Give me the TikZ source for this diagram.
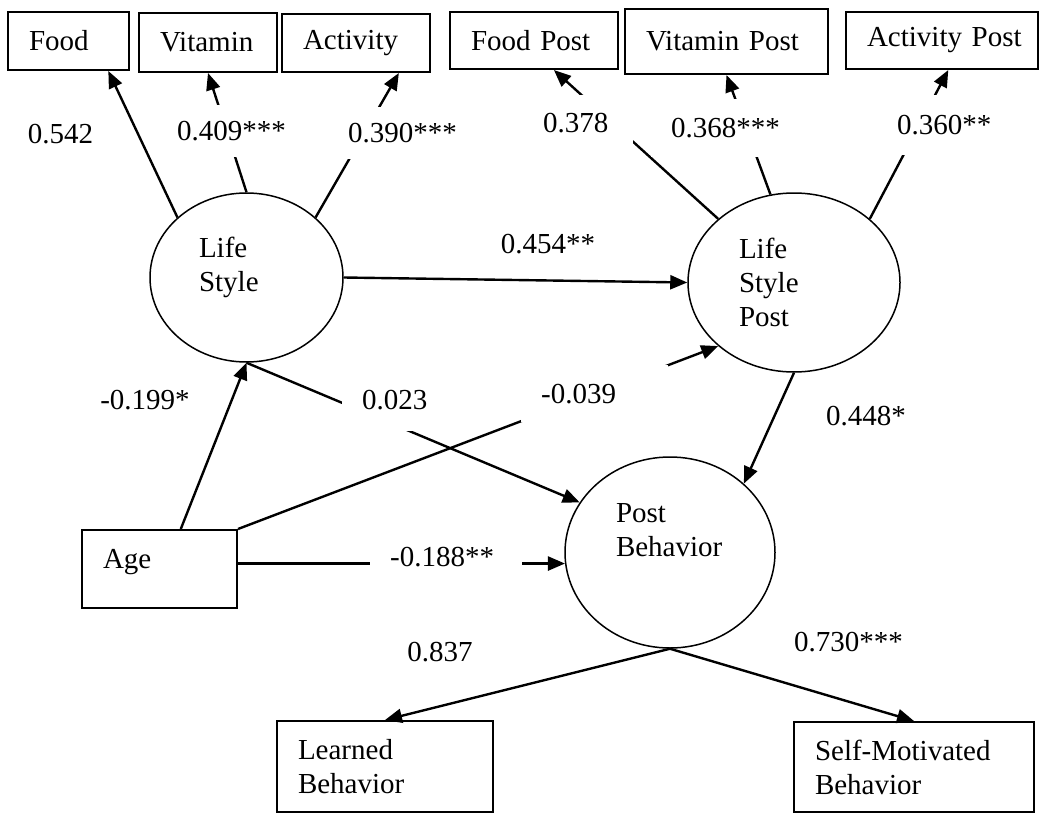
\documentclass[tikz,border=0pt]{standalone}
\usepackage{fontspec}
\setmainfont{Liberation Serif}
\usetikzlibrary{shapes.geometric, arrows.meta}

\tikzstyle{indicator} = [rectangle, draw, line width=2pt, align=left, inner xsep=21pt, inner ysep=5pt]
\tikzstyle{latent} = [ellipse, draw, line width=1.5pt, align=left, inner sep=5pt]
\tikzstyle{line} = [draw, -{Triangle[length=17pt, width=14pt]}, line width=2.4pt]
\tikzstyle{coef} = [inner sep=0pt]
\tikzstyle{gap} = [fill=white, align=left, inner xsep=20pt, inner ysep=0pt, anchor=north west]

\begin{document}
\begin{tikzpicture}[x=1pt, y=-1pt, font=\fontsize{29}{34}\selectfont]
    \useasboundingbox (0,0) rectangle (1040,813);

    % LATENT VARIABLES
        \node [latent, text width=95pt, text depth=61pt, minimum width=193pt, minimum height=169pt]
            (ls) at (246.5,277.5) {Life\\Style};
        \node [latent, text width=110pt, minimum width=212pt, minimum height=179pt]
            (lsp) at (794,282.5) {Life\\Style\\Post};
        \node [latent, text width=108pt, text depth=79pt, minimum width=210pt, minimum height=191pt]
            (pb) at (670,552.5) {Post\\Behavior};

    % INDICATORS of ls
        \node [indicator, text width=79pt, minimum height=58pt] (food) at (68.5,41) {Food};
        \node [indicator, text width=96pt, minimum height=59pt] (vitamin) at (208,42.5) {Vitamin};
        \node [indicator, text width=106pt, minimum height=58pt] (activity) at (356,43) {Activity};
    % INDICATORS of lsp
        \node [indicator, text width=126pt, minimum height=57pt] (foodpost) at (534,40.5) {Food~Post};
        \node [indicator, text width=161pt, minimum height=65pt] (vitaminpost) at (726.5,41.5) {Vitamin~Post};
        \node [indicator, text width=150pt, minimum height=57pt] (activitypost) at (942,40.5) {Activity~Post};
    % INDICATORS of pb
        \node [indicator, text width=174pt, minimum height=91pt] (learned) at (385,766.5) {Learned\\Behavior};
        \node [indicator, text width=198pt, minimum height=90pt] (selfmot) at (914,767) {Self-Motivated\\Behavior};
    % COVARIATE
        \node [indicator, text width=113pt, text depth=21pt, minimum height=78pt] (age) at (159.5,569) {Age};

    % LINE ls -> indicators
        \path[line] (ls.139) -- (food.-37);
        \path[line] (ls.north) -- (vitamin.south);
        \path[line] (ls.41) -- (activity.-35);
    % LINE lsp -> indicators
        \path[line] (lsp.140) -- (foodpost.-56);
        \path[line] (lsp.105) -- (vitaminpost.south);
        \path[line] (lsp.40) -- (activitypost.-78);
    % LINE structural paths
        \path[line] (ls.east) -- (lsp.west);
        \path[line] (age.62) -- (ls.south);
        \path[line] (ls.south) -- (pb.151);
        \path[line] (age.north east) -- (lsp.-140);
        \path[line] (age.east |- pb.-174) -- (pb.-174);
        \path[line] (lsp.south) -- (pb.43);
    % LINE pb -> indicators
        \path[line] (pb.south) -- (learned.north);
        \path[line] (pb.south) -- (selfmot.north);

    % COEFFICIENTS sitting on a line
        \node [gap, text width=112pt, minimum height=52pt] (c409) at (157,105) {0.409***};
        \node [gap, text width=112pt, minimum height=52pt] (c390) at (328,107) {0.390***};
        \node [gap, text width=70pt, minimum height=56pt] (c378) at (523,95) {0.378};
        \node [gap, text width=112pt, minimum height=58pt] (c368) at (651,99) {0.368***};
        \node [gap, text width=98pt, minimum height=60pt] (c360) at (877,95) {0.360**};
        \node [gap, text width=68pt, minimum height=63pt] (c023) at (342,368) {0.023};
        \node [gap, text width=107pt, minimum height=57pt] (c039) at (521,365) {-0.039};
        \node [gap, text width=112pt, minimum height=60pt] (c188) at (370,527) {-0.188**};
    % COEFFICIENTS beside a line
        \node [coef] (c542) at (60.5,134.5) {0.542};
        \node [coef] (c454) at (548,244) {0.454**};
        \node [coef] (c199) at (145,400) {-0.199*};
        \node [coef] (c448) at (866,416) {0.448*};
        \node [coef] (c837) at (440,652.5) {0.837};
        \node [coef] (c730) at (848.5,642) {0.730***};
\end{tikzpicture}
\end{document}
